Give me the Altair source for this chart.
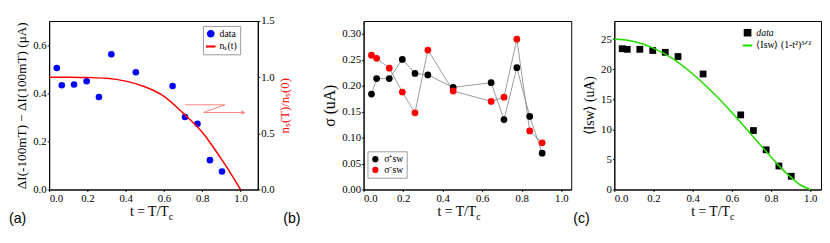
import altair as alt
import pandas as pd

SERIF = "Liberation Serif"
SANS = "Liberation Sans"

# ---------------- data ----------------
t_vals = [0.040, 0.066, 0.130, 0.196, 0.260, 0.325, 0.453, 0.645, 0.710, 0.775, 0.840, 0.903]

# (a) switching-current difference and superfluid density curve
dI_vals = [0.505, 0.433, 0.436, 0.450, 0.384, 0.562, 0.487, 0.430, 0.301, 0.273, 0.122, 0.075]
ns_t = [0.0, 0.1, 0.2, 0.3, 0.4, 0.5, 0.6, 0.7, 0.8, 0.9, 0.95, 1.0]
ns_vals = [1.0, 1.0, 0.997, 0.99, 0.965, 0.915, 0.83, 0.68, 0.51, 0.27, 0.14, 0.0]
arrow_t = [0.710, 0.918, 0.806, 1.015]
arrow_y = [0.352, 0.352, 0.320, 0.320]

# (b) widths of switching distributions
sig_plus = [0.184, 0.214, 0.214, 0.251, 0.224, 0.221, 0.197, 0.206, 0.135, 0.235, 0.141, 0.070]
sig_minus = [0.259, 0.253, 0.234, 0.188, 0.148, 0.269, 0.190, 0.170, 0.178, 0.290, 0.113, 0.090]

# (c) mean switching current and fit
isw_vals = [23.4, 23.3, 23.3, 23.1, 22.8, 22.1, 19.2, 12.4, 9.8, 6.6, 3.9, 2.2]
fit_t = [0.0, 0.1, 0.2, 0.3, 0.4, 0.5, 0.6, 0.7, 0.8, 0.85, 0.9, 0.95, 1.0]
fit_vals = [25.0, 24.6, 23.5, 21.7, 19.2, 16.2, 12.8, 9.1, 5.4, 3.6, 2.1, 0.75, 0.0]

W_A, W_B, W_C, H = 213, 212, 211, 172

x_ticks = [0.0, 0.2, 0.4, 0.6, 0.8, 1.0]
one = pd.DataFrame({"k": [0]})
LINE_SYM = "M-1.3,-0.1L1.3,-0.1L1.3,0.1L-1.3,0.1Z"
AX = dict(tickSize=2, labelPadding=1, labelFont=SERIF, labelFontSize=11, titleFont=SERIF,
          labelColor="black", titleColor="black", titleFontWeight="normal")


def x_axis():
    return alt.Axis(values=x_ticks, format=".1f", title=None, **AX)


def text_layer(txt, x, y, size=14, font=SERIF, align="left", color="black"):
    return alt.Chart(one).mark_text(
        font=font, fontSize=size, align=align, baseline="alphabetic", color=color
    ).encode(x=alt.value(x), y=alt.value(y), text=alt.value(txt))


def xtitle(xr):
    return [text_layer("t = T/T", xr, 199, 14, align="right"),
            text_layer("c", xr, 203, 10, align="left")]


def legend_common(x, y, stroke=True, italic_first=None):
    kw = dict(title=None, orient="none", legendX=x, legendY=y, labelFont=SERIF, labelFontSize=10,
              padding=3, rowPadding=1, symbolSize=40, labelOffset=4, labelColor="black")
    if stroke:
        kw.update(strokeColor="#999999", fillColor="white")
    if italic_first is not None:
        kw["labelFontStyle"] = alt.ExprRef(expr="datum.value === '%s' ? 'italic' : 'normal'" % italic_first)
    return alt.Legend(**kw)


# ---------------- panel (a) ----------------
xs_a = alt.Scale(domain=[0, 1.09], nice=False)
ys_a = alt.Scale(domain=[0, 0.7], nice=False)
dom_a = ["data", "nₛ(t)"]
leg_a = legend_common(157, 5, True)
col_a = alt.Color("series:N", scale=alt.Scale(domain=dom_a, range=["#0000ff", "#ff0000"]), legend=leg_a)
shp_a = alt.Shape("series:N", scale=alt.Scale(domain=dom_a, range=["circle", LINE_SYM]), legend=leg_a)

df_a = pd.DataFrame({"t": t_vals, "dI": dI_vals, "series": ["data"] * len(t_vals)})
df_ns = pd.DataFrame({"t": ns_t, "ns": ns_vals, "series": ["nₛ(t)"] * len(ns_t)})
df_arrow = pd.DataFrame({"t": arrow_t, "dI": arrow_y, "k": list(range(len(arrow_t)))})

pts_a = alt.Chart(df_a).mark_point(filled=True, size=45, opacity=1).encode(
    x=alt.X("t:Q", scale=xs_a, axis=x_axis()),
    y=alt.Y("dI:Q", scale=ys_a,
            axis=alt.Axis(values=[0, 0.2, 0.4, 0.6], format=".1f",
                          title="ΔI(-100mT) − ΔI(100mT) (μA)", titlePadding=4, titleFontSize=13.5, **AX)),
    color=col_a, shape=shp_a,
)
arrow_line = alt.Chart(df_arrow).mark_line(color="#ff8080", strokeWidth=1).encode(
    x=alt.X("t:Q", scale=xs_a), y=alt.Y("dI:Q", scale=ys_a), order="k:Q")
arrow_head = alt.Chart(df_arrow.tail(1)).mark_point(
    shape="triangle-right", filled=True, color="#ff8080", size=22, opacity=1).encode(
    x=alt.X("t:Q", scale=xs_a), y=alt.Y("dI:Q", scale=ys_a))

left_a = alt.layer(pts_a, arrow_line, arrow_head,
                   *xtitle(122),
                   text_layer("(a)", -41, 206, 14.5, SANS),
                   text_layer("(b)", 239, 206, 14.5, SANS))

line_ns = alt.Chart(df_ns).mark_line(strokeWidth=1.5, interpolate="monotone").encode(
    x=alt.X("t:Q", scale=xs_a),
    y=alt.Y("ns:Q", scale=alt.Scale(domain=[0, 1.5], nice=False),
            axis=alt.Axis(orient="right", values=[0, 0.5, 1.0, 1.5], format=".1f",
                          title="nₛ(T)/nₛ(0)", titleAngle=270, titleBaseline="top",
                          titlePadding=5, titleFontSize=13,
                          **{**AX, "titleColor": "#ff0000"})),
    color=col_a,
)
panel_a = alt.layer(left_a, line_ns).resolve_scale(y="independent").properties(width=W_A, height=H)

# ---------------- panel (b) ----------------
xs_b = alt.Scale(domain=[0, 1.05], nice=False)
ys_b = alt.Scale(domain=[0, 0.325], nice=False)
dom_b = ["σ⁺sw", "σ⁻sw"]
n = len(t_vals)
df_b = pd.DataFrame({"t": t_vals + t_vals, "sigma": sig_plus + sig_minus,
                     "series": [dom_b[0]] * n + [dom_b[1]] * n})
xb = alt.X("t:Q", scale=xs_b, axis=x_axis())
yb = alt.Y("sigma:Q", scale=ys_b,
           axis=alt.Axis(values=[0, 0.05, 0.1, 0.15, 0.2, 0.25, 0.3], format=".2f",
                         title="σ (uA)", titleFontSize=16, titlePadding=4, **AX))
lines_b = alt.Chart(df_b).mark_line(color="#808080", strokeWidth=0.8).encode(
    x=xb, y=yb, detail="series:N", order="t:Q")
pts_b = alt.Chart(df_b).mark_point(filled=True, size=48, opacity=1).encode(
    x=xb, y=yb,
    color=alt.Color("series:N", scale=alt.Scale(domain=dom_b, range=["#000000", "#ff0000"]),
                    legend=legend_common(4, 133, True)),
)
panel_b = alt.layer(lines_b, pts_b, *xtitle(115)).properties(width=W_B, height=H)

# ---------------- panel (c) ----------------
xs_c = alt.Scale(domain=[0, 1.055], nice=False)
ys_c = alt.Scale(domain=[0, 28], nice=False)
dom_c = ["data", "⟨Isw⟩ (1-t²)³ᐟ²"]
leg_c = legend_common(128, 4, False, "data")
col_c = alt.Color("series:N", scale=alt.Scale(domain=dom_c, range=["#000000", "#22dd00"]), legend=leg_c)
shp_c = alt.Shape("series:N", scale=alt.Scale(domain=dom_c, range=["square", LINE_SYM]), legend=leg_c)
df_c = pd.DataFrame({"t": t_vals, "I": isw_vals, "series": ["data"] * n})
df_fit = pd.DataFrame({"t": fit_t, "I": fit_vals, "series": [dom_c[1]] * len(fit_t)})
xc = alt.X("t:Q", scale=xs_c, axis=x_axis())
yc = alt.Y("I:Q", scale=ys_c,
           axis=alt.Axis(values=[0, 5, 10, 15, 20, 25], format="d",
                         title="⟨Isw⟩ (uA)", titleFontSize=14, titlePadding=4, **AX))
pts_c = alt.Chart(df_c).mark_point(filled=True, size=48, opacity=1).encode(
    x=xc, y=yc, color=col_c, shape=shp_c)
fit_c = alt.Chart(df_fit).mark_line(strokeWidth=1.6, interpolate="monotone").encode(
    x=xc, y=yc, color=col_c)
panel_c = alt.layer(pts_c, fit_c, *xtitle(118),
                    text_layer("(c)", -42, 206, 14.5, SANS)).properties(width=W_C, height=H)

spacer = alt.Chart(one).mark_point(opacity=0).encode(
    x=alt.value(0), y=alt.value(0)).properties(
    width=0, height=H, view=alt.ViewBackground(stroke="transparent"))

chart = alt.hconcat(panel_a, spacer, panel_b, panel_c, spacing=44, bounds="flush").resolve_scale(
    color="independent", shape="independent"
).configure_view(stroke="black", strokeWidth=1).configure_axis(
    grid=False, domainColor="black", tickColor="black", labelColor="black",
    labelFont=SERIF, labelFontSize=11, titleFont=SERIF, titleFontSize=13,
    titleFontWeight="normal", titleColor="black",
).properties(padding={"left": 0, "top": 4, "right": 0, "bottom": 0})

chart.save("out.html", embed_options={"renderer": "svg", "actions": False})
